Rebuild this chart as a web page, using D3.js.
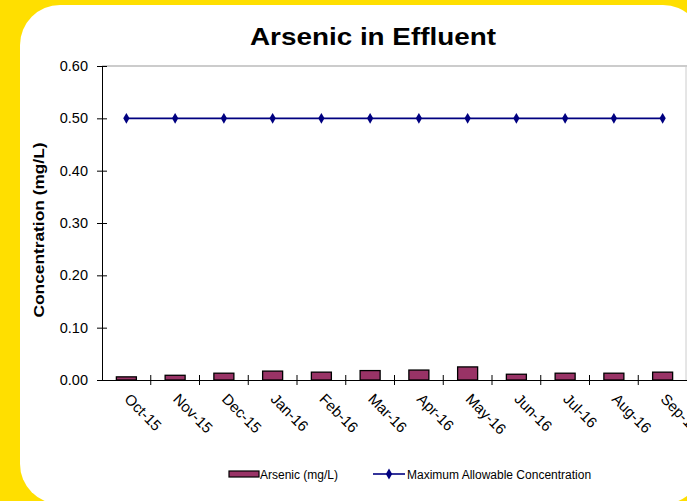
<!DOCTYPE html>
<html>
<head>
<meta charset="utf-8">
<script src="https://cdn.jsdelivr.net/npm/d3@7"></script>
<style>
  html, body { margin: 0; padding: 0; background: #FFDF00; }
  svg { display: block; }
  text { font-family: "Liberation Sans", Arial, sans-serif; fill: #000; }
</style>
</head>
<body>
<svg id="chart" width="687" height="501"></svg>
<script>
const months = ["Oct-15","Nov-15","Dec-15","Jan-16","Feb-16","Mar-16","Apr-16","May-16","Jun-16","Jul-16","Aug-16","Sep-16"];
const arsenic = [0.006, 0.009, 0.013, 0.017, 0.015, 0.018, 0.019, 0.025, 0.011, 0.013, 0.013, 0.015];
const maxAllowable = [0.5, 0.5, 0.5, 0.5, 0.5, 0.5, 0.5, 0.5, 0.5, 0.5, 0.5, 0.5];
const yTicks = [0, 0.1, 0.2, 0.3, 0.4, 0.5, 0.6];
const titleText = "Arsenic in Effluent";
const yTitle = "Concentration (mg/L)";
const seriesNames = ["Arsenic (mg/L)", "Maximum Allowable Concentration"];

(function () {
const svg = d3.select("#chart");
const W = 687, H = 501;

// background
svg.append("rect").attr("width", W).attr("height", H).attr("fill", "#FFDF00");
svg.append("rect").attr("x", 20).attr("y", 5).attr("width", 683).attr("height", 499)
  .attr("rx", 40).attr("ry", 40).attr("fill", "#fff");

const pL = 102, pR = 687, pT = 66, pB = 380;
const x = d3.scaleBand().domain(months).range([pL, pR]);
const y = d3.scaleLinear().domain([0, 0.6]).range([pB, pT]);

// plot border (top and right, gray)
svg.append("line").attr("x1", pL).attr("x2", pR).attr("y1", pT).attr("y2", pT)
  .attr("stroke", "#999").attr("stroke-width", 1.2);
svg.append("line").attr("x1", 686).attr("x2", 686).attr("y1", pT).attr("y2", pB)
  .attr("stroke", "#ccc").attr("stroke-width", 1);

// bars
const bw = 20;
svg.append("g").selectAll("rect").data(arsenic).join("rect")
  .attr("x", (d, i) => x(months[i]) + x.bandwidth() / 2 - bw / 2)
  .attr("y", d => y(d))
  .attr("width", bw)
  .attr("height", d => y(0) - y(d))
  .attr("fill", "#993366")
  .attr("stroke", "#000")
  .attr("stroke-width", 1.3);

// y axis
const yAxis = d3.axisLeft(y).tickValues(yTicks).tickFormat(d3.format(".2f"))
  .tickSizeInner(5).tickSizeOuter(0).tickPadding(9);
const gy = svg.append("g").attr("transform", `translate(${pL},0)`).call(yAxis);
gy.select(".domain").attr("stroke", "#000");
gy.selectAll(".tick line").attr("stroke", "#000").attr("x1", -5).attr("x2", 5);
gy.selectAll(".tick text").attr("font-size", 14.5).attr("font-family", "Liberation Sans, Arial, sans-serif").attr("fill", "#000");

// x axis
const xAxis = d3.axisBottom(x).tickSize(0).tickFormat("");
const gx = svg.append("g").attr("transform", `translate(0,${pB})`).call(xAxis);
gx.select(".domain").attr("stroke", "#000");
gx.selectAll(".tick").remove();
const bounds = months.map(m => x(m));
svg.append("g").selectAll("line").data(bounds.slice(1)).join("line")
  .attr("x1", d => d).attr("x2", d => d).attr("y1", pB - 5).attr("y2", pB + 5)
  .attr("stroke", "#000");
svg.append("g").selectAll("text").data(months).join("text")
  .attr("transform", d => `translate(${x(d) + x.bandwidth() / 2 - 3},${pB + 20}) rotate(45)`)
  .attr("font-size", 15)
  .text(d => d);

// line series
const line = d3.line().x((d, i) => x(months[i]) + x.bandwidth() / 2).y(d => y(d));
svg.append("path").datum(maxAllowable).attr("d", line)
  .attr("fill", "none").attr("stroke", "#000080").attr("stroke-width", 1.6);
const diamond = d3.symbol().type(d3.symbolDiamond).size(34);
svg.append("g").selectAll("path").data(maxAllowable).join("path")
  .attr("transform", (d, i) => `translate(${x(months[i]) + x.bandwidth() / 2},${y(d)})`)
  .attr("d", diamond).attr("fill", "#000080");

// title
svg.append("text").attr("x", 373).attr("y", 45).attr("text-anchor", "middle")
  .attr("font-size", 24).attr("font-weight", "bold").attr("textLength", 246)
  .attr("lengthAdjust", "spacingAndGlyphs").text(titleText);

// y title
svg.append("text").attr("transform", "translate(44,230) rotate(-90)")
  .attr("text-anchor", "middle").attr("font-size", 15).attr("font-weight", "bold")
  .attr("textLength", 175).attr("lengthAdjust", "spacingAndGlyphs").text(yTitle);

// legend
const lg = svg.append("g");
lg.append("rect").attr("x", 229).attr("y", 471).attr("width", 30).attr("height", 6)
  .attr("fill", "#993366").attr("stroke", "#000").attr("stroke-width", 1.2);
lg.append("text").attr("x", 260).attr("y", 479).attr("font-size", 12).text(seriesNames[0]);
lg.append("line").attr("x1", 373).attr("x2", 405).attr("y1", 474).attr("y2", 474)
  .attr("stroke", "#000080").attr("stroke-width", 1.6);
lg.append("path").attr("transform", "translate(389,474)").attr("d", diamond).attr("fill", "#000080");
lg.append("text").attr("x", 407).attr("y", 479).attr("font-size", 12).text(seriesNames[1]);
})();
</script>
</body>
</html>
